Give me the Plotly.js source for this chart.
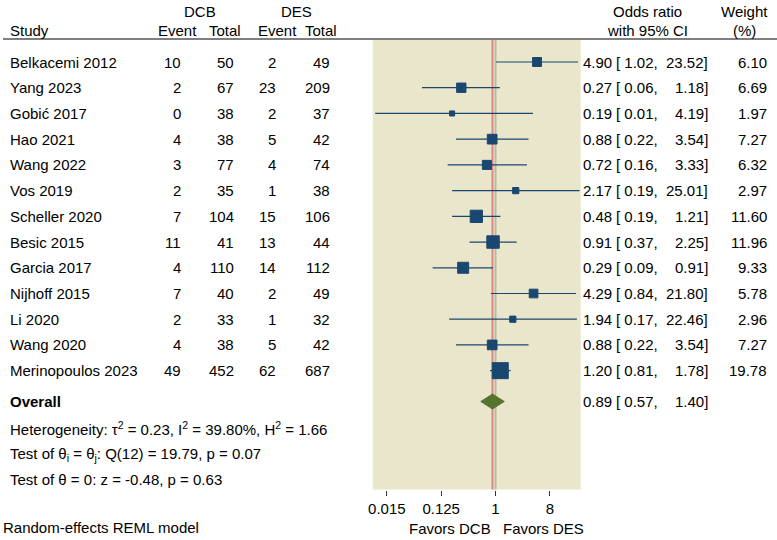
<!DOCTYPE html>
<html>
<head>
<meta charset="utf-8">
<script src="https://cdn.plot.ly/plotly-3.0.1.min.js"></script>
<style>html,body{margin:0;padding:0;background:#fff;}</style>
</head>
<body>
<div id="chart" style="width:777px;height:540px;"></div>
<script>
// ---- data ----
var studies = ["Belkacemi 2012","Yang 2023","Gobić 2017","Hao 2021","Wang 2022","Vos 2019","Scheller 2020","Besic 2015","Garcia 2017","Nijhoff 2015","Li 2020","Wang 2020","Merinopoulos 2023"];
var dcbEvent = [10,2,0,4,3,2,7,11,4,7,2,4,49];
var dcbTotal = [50,67,38,38,77,35,104,41,110,40,33,38,452];
var desEvent = [2,23,2,5,4,1,15,13,14,2,1,5,62];
var desTotal = [49,209,37,42,74,38,106,44,112,49,32,42,687];
var oddsRatio = [4.90,0.27,0.19,0.88,0.72,2.17,0.48,0.91,0.29,4.29,1.94,0.88,1.20];
var ciLow = [1.02,0.06,0.01,0.22,0.16,0.19,0.19,0.37,0.09,0.84,0.17,0.22,0.81];
var ciHigh = [23.52,1.18,4.19,3.54,3.33,25.01,1.21,2.25,0.91,21.80,22.46,3.54,1.78];
var weight = [6.10,6.69,1.97,7.27,6.32,2.97,11.60,11.96,9.33,5.78,2.96,7.27,19.78];
var overallOR = 0.89, overallLow = 0.57, overallHigh = 1.40;
var tickVals = [0.015625, 0.125, 1, 8];
var tickText = ["0.015","0.125","1","8"];
var statLines = [
  "Heterogeneity: τ<sup>2</sup> = 0.23, I<sup>2</sup> = 39.80%, H<sup>2</sup> = 1.66",
  "Test of θ<sub>i</sub> = θ<sub>j</sub>: Q(12) = 19.79, p = 0.07",
  "Test of θ = 0: z = -0.48, p = 0.63"
];

// ---- layout helpers ----
var W = 777, H = 540;
var FONT = "Liberation Sans, Arial, Helvetica, sans-serif";
var FS = 15;
function px(x){ return x / W; }
function py(y){ return 1 - y / H; }
var rows = studies.map(function(_, i){ return i + 1; });
var overallRow = 14.2;
var statRows = [15.23, 16.25, 17.24];

var navy = "#1a476f";
var green = "#55752f";

var traces = [];
var lx = [], ly = [];
for (var i = 0; i < studies.length; i++) {
  lx.push(ciLow[i], ciHigh[i], null);
  ly.push(rows[i], rows[i], null);
}
traces.push({x: lx, y: ly, mode: "lines", type: "scatter", line: {color: navy, width: 1.2}, hoverinfo: "skip"});
traces.push({
  x: oddsRatio, y: rows, mode: "markers", type: "scatter",
  marker: {symbol: "square", color: navy, opacity: 1, size: weight.map(function(w){ return 3.6 * Math.sqrt(w); }), line: {color: navy, width: 1}},
  hoverinfo: "skip"
});
var dh = 0.29;
traces.push({
  x: [overallLow, overallOR, overallHigh, overallOR, overallLow],
  y: [overallRow, overallRow - dh, overallRow, overallRow + dh, overallRow],
  mode: "lines", type: "scatter", fill: "toself", fillcolor: green,
  line: {color: green, width: 1}, hoverinfo: "skip"
});

var ann = [];
function A(text, x, y, xanchor, yref){
  ann.push({text: text, x: x, y: y, xref: "paper", yref: yref || "paper", xanchor: xanchor || "left", yanchor: "middle", showarrow: false, font: {family: FONT, size: FS, color: "#000"}});
}
A("DCB", px(200), py(11), "center");
A("DES", px(296), py(11), "center");
A("Study", px(8), py(30), "left");
A("Event", px(177), py(30), "center");
A("Total", px(225), py(30), "center");
A("Event", px(277), py(30), "center");
A("Total", px(321), py(30), "center");
A("Odds ratio", px(647), py(11), "center");
A("with 95% CI", px(647), py(30), "center");
A("Weight", px(744), py(11), "center");
A("(%)", px(744), py(30), "center");

for (var i = 0; i < studies.length; i++) {
  var r = rows[i];
  A(studies[i], px(8), r, "left", "y");
  A(String(dcbEvent[i]), px(183), r, "right", "y");
  A(String(dcbTotal[i]), px(236), r, "right", "y");
  A(String(desEvent[i]), px(278), r, "right", "y");
  A(String(desTotal[i]), px(332), r, "right", "y");
  A(oddsRatio[i].toFixed(2), px(581), r, "left", "y");
  A("[ " + ciLow[i].toFixed(2) + ",", px(614), r, "left", "y");
  A(ciHigh[i].toFixed(2) + "]", px(710), r, "right", "y");
  A(weight[i].toFixed(2), px(769), r, "right", "y");
}
A("<b>Overall</b>", px(8), overallRow, "left", "y");
A(overallOR.toFixed(2), px(581), overallRow, "left", "y");
A("[ " + overallLow.toFixed(2) + ",", px(614), overallRow, "left", "y");
A(overallHigh.toFixed(2) + "]", px(710), overallRow, "right", "y");
for (var j = 0; j < statLines.length; j++) A(statLines[j], px(8), statRows[j], "left", "y");
A("Random-effects REML model", px(1), py(527), "left");
A("Favors DCB", px(450), py(528), "center");
A("Favors DES", px(543), py(528), "center");

var shapes = [
  {type: "line", xref: "paper", yref: "paper", x0: px(3), x1: 1, y0: py(39), y1: py(39), line: {color: "#555", width: 1.5}},
  {type: "line", xref: "x", yref: "y domain", x0: 1, x1: 1, y0: 0, y1: 1, line: {color: "#b8baa8", width: 2}, layer: "below"},
  {type: "line", xref: "x", yref: "y domain", x0: overallOR, x1: overallOR, y0: 0, y1: 1, line: {color: "#e08585", width: 2}, layer: "below"}
];

var layout = {
  width: W, height: H,
  margin: {l: 0, r: 0, t: 0, b: 0},
  paper_bgcolor: "#ffffff",
  plot_bgcolor: "#eae6cb",
  showlegend: false,
  font: {family: FONT, size: FS, color: "#000"},
  xaxis: {
    type: "log", domain: [px(372.7), px(580.7)], range: [-2.041, 1.416],
    tickvals: tickVals, ticktext: tickText, ticks: "outside", ticklen: 5, tickcolor: "#333", tickwidth: 1,
    showgrid: false, zeroline: false, showline: false, tickfont: {family: FONT, size: FS, color: "#000"}, fixedrange: true
  },
  yaxis: {
    domain: [py(489.5), py(40)], range: [17.62, 0.1446],
    showgrid: false, zeroline: false, showline: false, showticklabels: false, ticks: "", fixedrange: true
  },
  annotations: ann,
  shapes: shapes
};
Plotly.newPlot("chart", traces, layout, {staticPlot: true, displayModeBar: false});
</script>
</body>
</html>
